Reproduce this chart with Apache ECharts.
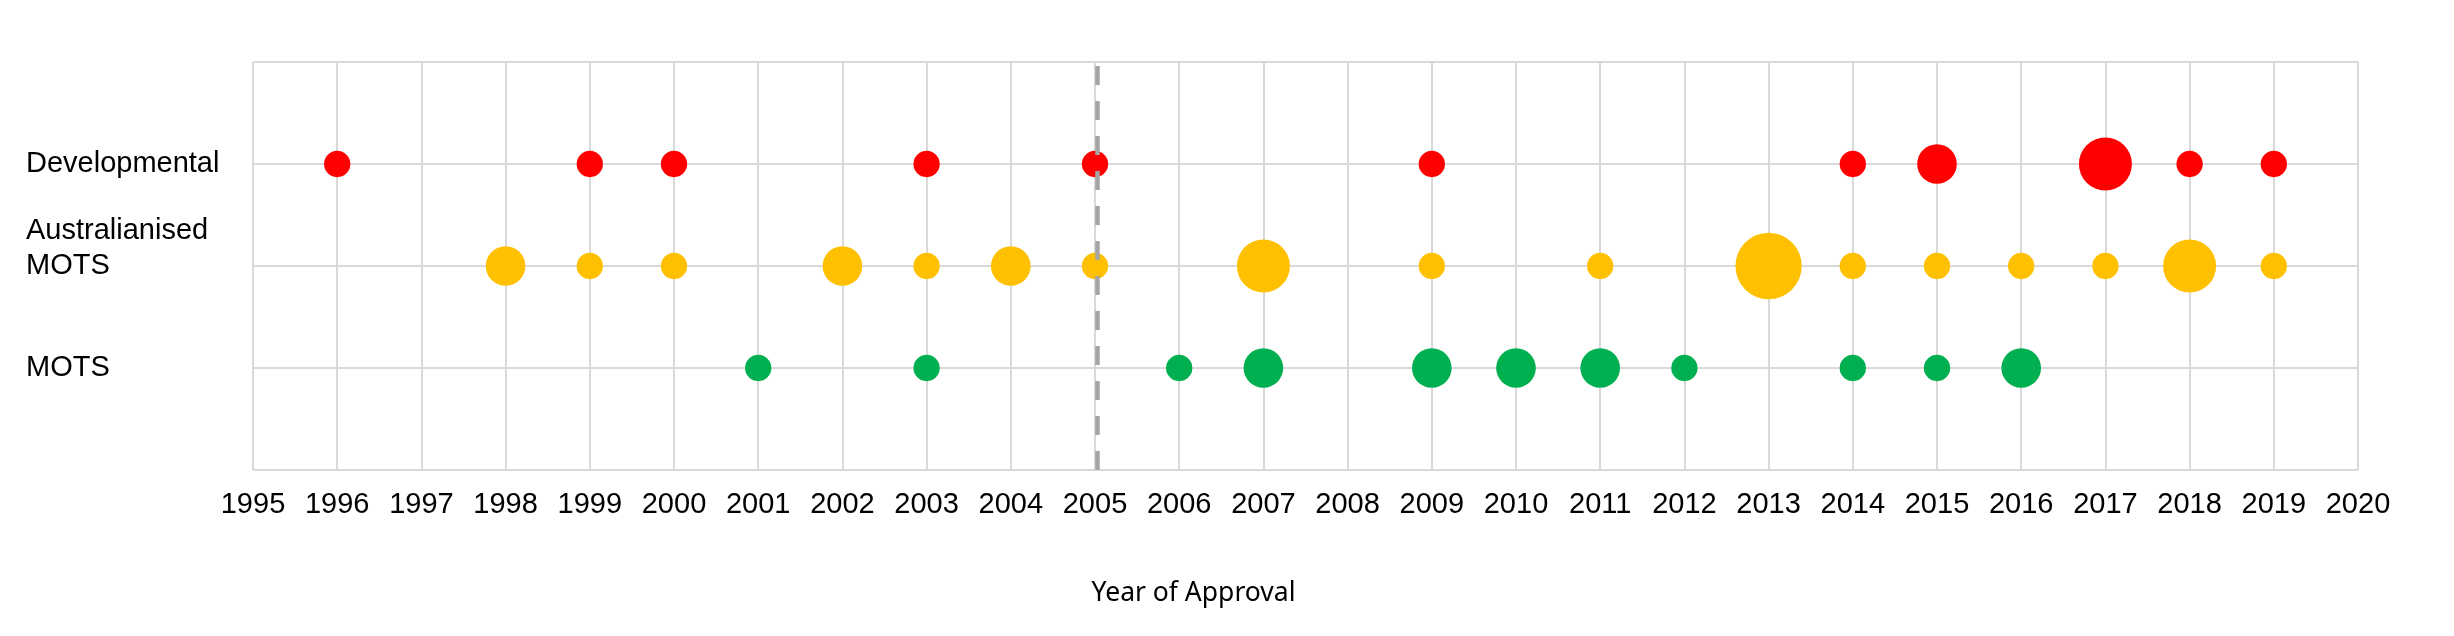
<!DOCTYPE html>
<html>
<head>
<meta charset="utf-8">
<title>Year of Approval</title>
<script src="https://cdn.jsdelivr.net/npm/echarts@6/dist/echarts.min.js"></script>
<style>
  html, body { margin: 0; padding: 0; background: #fff; }
  #chart { width: 2454px; height: 636px; }
</style>
</head>
<body>
<div id="chart"></div>
<script>
// rows on the y axis (value -> label)
var rowNames = { 1: 'MOTS', 2: 'Australianised\nMOTS\n\u00a0', 3: 'Developmental' };

// approvals per year, by pathway
var devYears = [1996, 1999, 2000, 2003, 2005, 2009, 2014, 2015, 2017, 2018, 2019];
var devCounts = [1, 1, 1, 1, 1, 1, 1, 2, 3, 1, 1];

var ausYears = [1998, 1999, 2000, 2002, 2003, 2004, 2005, 2007, 2009, 2011, 2013, 2014, 2015, 2016, 2017, 2018, 2019];
var ausCounts = [2, 1, 1, 2, 1, 2, 1, 3, 1, 1, 4, 1, 1, 1, 1, 3, 1];

var motsYears = [2001, 2003, 2006, 2007, 2009, 2010, 2011, 2012, 2014, 2015, 2016];
var motsCounts = [1, 1, 1, 2, 2, 2, 2, 1, 1, 1, 2];

var cutoffYear = 2005;

function toPoints(years, counts, row) {
    return years.map(function (y, i) { return [y, row, counts[i]]; });
}

function bubble(v) {
    return 13 + 13.33 * v[2];
}

var dom = document.getElementById('chart');
var myChart = echarts.init(dom);

var font = 'Liberation Sans, Arial, sans-serif';

var option = {
    animation: false,
    grid: { left: 253, right: 96, top: 62, bottom: 166 },
    xAxis: {
        type: 'value',
        min: 1995,
        max: 2020,
        interval: 1,
        name: 'Year of Approval',
        nameLocation: 'middle',
        nameGap: 110,
        nameTextStyle: {
            fontFamily: 'Noto Sans, Open Sans, sans-serif',
            fontSize: 26.5,
            color: '#000',
            padding: [0, 224, 0, 0]
        },
        axisLine: { show: false },
        axisTick: { show: false },
        axisLabel: {
            fontFamily: font,
            fontSize: 29,
            color: '#000',
            margin: 20,
            formatter: function (v) { return String(v); }
        },
        splitLine: { show: true, lineStyle: { color: '#D9D9D9', width: 2 } }
    },
    yAxis: {
        type: 'value',
        min: 0,
        max: 4,
        interval: 1,
        axisLine: { show: false },
        axisTick: { show: false },
        axisLabel: {
            fontFamily: font,
            fontSize: 29,
            lineHeight: 35,
            color: '#000',
            align: 'left',
            margin: 227,
            formatter: function (v) { return rowNames[v] || ''; }
        },
        splitLine: { show: true, lineStyle: { color: '#D9D9D9', width: 2 } }
    },
    series: [
        {
            name: 'Developmental',
            type: 'scatter',
            data: toPoints(devYears, devCounts, 3),
            symbolSize: bubble,
            itemStyle: { color: '#FF0000', opacity: 1 }
        },
        {
            name: 'Australianised MOTS',
            type: 'scatter',
            data: toPoints(ausYears, ausCounts, 2),
            symbolSize: bubble,
            itemStyle: { color: '#FFC000', opacity: 1 }
        },
        {
            name: 'MOTS',
            type: 'scatter',
            data: toPoints(motsYears, motsCounts, 1),
            symbolSize: bubble,
            itemStyle: { color: '#00B050', opacity: 1 }
        },
        {
            // dashed cut-off line
            type: 'scatter',
            data: [],
            z: 10,
            markLine: {
                silent: true,
                symbol: 'none',
                label: { show: false },
                lineStyle: { color: '#A5A5A5', width: 4.5, type: [19, 16] },
                data: [{ xAxis: cutoffYear + 0.03 }]
            }
        }
    ]
};

myChart.setOption(option, true);
</script>
</body>
</html>
